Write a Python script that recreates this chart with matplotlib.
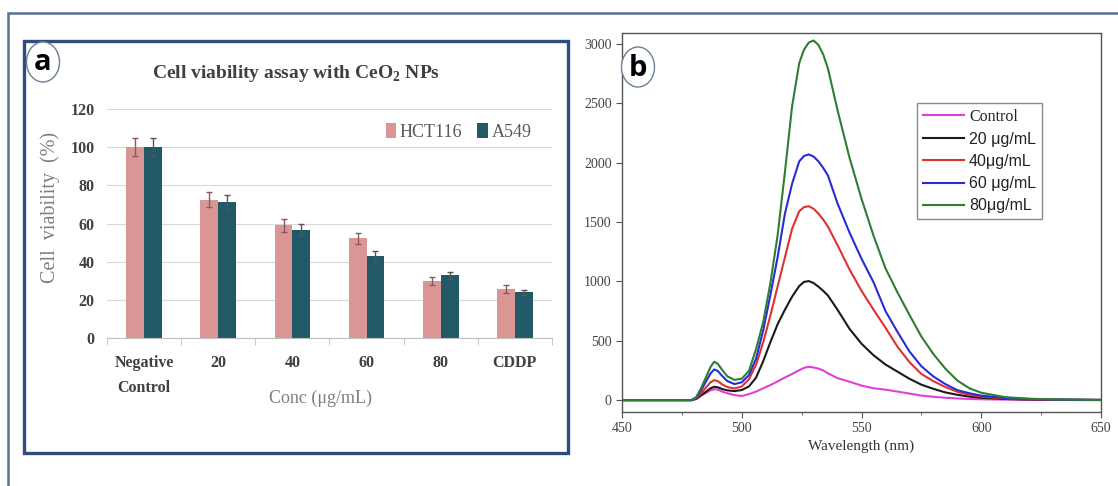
import matplotlib
matplotlib.use('Agg')
import matplotlib.pyplot as plt
import numpy as np
from matplotlib.patches import Rectangle, Ellipse

plt.rcParams['mathtext.fontset'] = 'custom'
plt.rcParams['mathtext.rm'] = 'Liberation Serif:bold'
plt.rcParams['mathtext.bf'] = 'Liberation Serif:bold'

# panel a: cell viability
categories = ['Negative\nControl', '20', '40', '60', '80', 'CDDP']
hct116 = [100, 72.5, 59, 52.2, 29.8, 25.8]
hct116_err = [4.8, 3.8, 3.3, 3.0, 2.2, 2.0]
a549 = [100, 71.2, 56.8, 42.8, 32.8, 24.0]
a549_err = [4.6, 3.6, 2.8, 2.6, 1.8, 1.4]

# panel b: emission spectra
wavelength = [450, 479, 481, 483, 485, 487, 488.5, 490, 492, 494, 497, 500, 503, 506, 509, 512,
              515, 518, 521, 524, 526, 528, 530, 532, 534, 536, 540, 545, 550, 555, 560,
              565, 570, 575, 580, 585, 590, 595, 600, 610, 620, 630, 650]
control = [0, 0, 10, 38, 60, 82, 92, 88, 70, 58, 42, 35, 50, 72, 100, 127,
           158, 190, 220, 252, 272, 280, 275, 265, 250, 225, 185, 155, 122, 100, 88,
           72, 55, 38, 28, 20, 14, 10, 7, 4, 2, 1, 0]
conc20 = [0, 0, 10, 40, 70, 100, 112, 108, 92, 82, 76, 85, 115, 190, 330, 490,
          640, 760, 870, 960, 995, 1002, 985, 955, 920, 880, 760, 600, 475, 378, 300,
          240, 180, 130, 95, 65, 45, 30, 20, 10, 5, 3, 1]
conc40 = [0, 0, 15, 55, 105, 150, 168, 160, 130, 110, 98, 115, 175, 300, 490, 715,
          958, 1200, 1440, 1590, 1625, 1632, 1610, 1570, 1520, 1460, 1304, 1100, 920, 762, 610,
          450, 320, 220, 160, 110, 70, 45, 30, 14, 7, 4, 1]
conc60 = [0, 0, 20, 80, 155, 225, 258, 245, 200, 160, 135, 150, 210, 350, 590, 890,
          1205, 1567, 1820, 2010, 2055, 2068, 2050, 2010, 1955, 1890, 1655, 1410, 1190, 993, 750,
          575, 410, 285, 199, 135, 84, 58, 38, 18, 9, 5, 2]
conc80 = [0, 0, 25, 100, 190, 280, 323, 305, 250, 200, 170, 180, 245, 430, 660, 990,
          1390, 1915, 2470, 2837, 2950, 3010, 3027, 2990, 2910, 2790, 2440, 2040, 1695, 1385, 1110,
          907, 718, 535, 388, 265, 165, 100, 62, 25, 12, 6, 2]
series_labels = ['Control', '20 \u03bcg/mL', '40\u03bcg/mL', '60 \u03bcg/mL', '80\u03bcg/mL']
series_colors = ['#E040D8', '#1a1a1a', '#E0312F', '#2B2BD6', '#2E7D32']

W, H = 1118, 486
fig = plt.figure(figsize=(W / 100, H / 100), dpi=100)


def fx(px):
    return px / W


def fy(py):
    return 1 - py / H


serif = 'Liberation Serif'

# outer frame and panel a frame
fig.add_artist(Rectangle((fx(8), fy(500)), fx(1130), fy(13) - fy(500), transform=fig.transFigure,
                         fill=False, edgecolor='#5B7393', lw=1.8))
fig.add_artist(Rectangle((fx(24), fy(453)), fx(568) - fx(24), fy(41) - fy(453), transform=fig.transFigure,
                         fill=False, edgecolor='#2F4D7A', lw=2.4))

# ---- panel a ----
ax1 = fig.add_axes([fx(107), fy(338), fx(552) - fx(107), fy(109) - fy(338)])
x = np.arange(len(categories))
w = 0.24
ax1.bar(x - w / 2, hct116, w, color='#D99694', label='HCT116', zorder=2)
ax1.bar(x + w / 2, a549, w, color='#215967', label='A549', zorder=2)
ax1.errorbar(x - w / 2, hct116, yerr=hct116_err, fmt='none', ecolor='#8a5a58', elinewidth=1,
             capsize=2.5, zorder=3)
ax1.errorbar(x + w / 2, a549, yerr=a549_err, fmt='none', ecolor='#555555', elinewidth=1,
             capsize=2.5, zorder=3)
ax1.set_ylim(0, 120)
ax1.set_xlim(-0.5, 5.5)
ax1.set_yticks(range(0, 121, 20))
ax1.yaxis.grid(True, color='#D9D9D9', lw=0.8, zorder=0)
ax1.set_axisbelow(True)
for s in ['top', 'right', 'left']:
    ax1.spines[s].set_visible(False)
ax1.spines['bottom'].set_color('#BFBFBF')
ax1.set_xticks(x)
ax1.set_xticklabels(categories, fontfamily=serif, fontweight='bold', fontsize=11.5, color='#404040',
                    linespacing=1.75)
ax1.set_xticks(np.arange(-0.5, 6, 1), minor=True)
ax1.tick_params(axis='x', which='major', length=0, pad=12)
ax1.tick_params(axis='x', which='minor', length=5, color='#BFBFBF')
ax1.tick_params(axis='y', length=0, pad=9)
for t in ax1.get_yticklabels():
    t.set_fontfamily(serif)
    t.set_fontweight('bold')
    t.set_fontsize(11.5)
    t.set_color('#404040')
ax1.text(-0.128, 0.57, 'Cell  viability  (%)', transform=ax1.transAxes, rotation=90,
         ha='center', va='center', fontfamily=serif, fontsize=14.5, color='#7F7F7F')
ax1.text(0.479, -0.262, 'Conc (\u03bcg/mL)', transform=ax1.transAxes, ha='center', va='center',
         fontfamily=serif, fontsize=13, color='#7F7F7F')
leg1 = ax1.legend(loc='center', bbox_to_anchor=(0.79, 0.9), ncol=2, frameon=False,
                  handlelength=0.6, handleheight=0.9, handletextpad=0.2, columnspacing=0.8,
                  prop={'family': serif, 'size': 13})
for t in leg1.get_texts():
    t.set_color('#595959')
fig.text(fx(296), fy(73), r'Cell viability assay with CeO$_\mathbf{2}$ NPs', ha='center', va='center',
         fontfamily=serif, fontweight='bold', fontsize=14, color='#404040')

# ---- panel b ----
ax2 = fig.add_axes([fx(622), fy(412), fx(1101) - fx(622), fy(33) - fy(412)])
for vals, lab, col in zip([control, conc20, conc40, conc60, conc80], series_labels, series_colors):
    ax2.plot(wavelength, vals, color=col, lw=1.5, label=lab)
ax2.set_xlim(450, 650)
ax2.set_ylim(-100, 3090)
ax2.set_xticks(range(450, 651, 50))
ax2.set_xticks(range(475, 650, 50), minor=True)
ax2.set_yticks(range(0, 3001, 500))
for s in ax2.spines.values():
    s.set_color('#555555')
    s.set_linewidth(1.0)
ax2.tick_params(axis='both', which='major', length=4, color='#555555', labelsize=10,
                labelcolor='#444444')
ax2.tick_params(axis='x', which='minor', length=2.5, color='#555555')
for t in ax2.get_xticklabels() + ax2.get_yticklabels():
    t.set_fontfamily(serif)
ax2.set_xlabel('Wavelength (nm)', fontfamily=serif, fontsize=11, color='#333333', labelpad=3)
leg2 = ax2.legend(loc='upper left', bbox_to_anchor=(0.616, 0.815), borderaxespad=0,
                  fancybox=False, edgecolor='#8c8c8c', framealpha=1, fontsize=11.5,
                  handlelength=2.6, handletextpad=0.3, labelspacing=0.45, borderpad=0.35)
leg2.get_frame().set_linewidth(1.0)
for i, t in enumerate(leg2.get_texts()):
    t.set_fontfamily(serif if i == 0 else 'Liberation Sans')
    t.set_color('#222222')

# panel letters
for cx, cy, letter in [(43, 62, 'a'), (638, 67, 'b')]:
    fig.add_artist(Ellipse((fx(cx), fy(cy)), fx(33), 40 / H, transform=fig.transFigure,
                           facecolor='white', edgecolor='#6B7F99', lw=1.0, zorder=5))
    fig.text(fx(cx), fy(cy + 1), letter, ha='center', va='center', fontfamily='Open Sans',
             fontweight='bold', fontsize=21, color='black', zorder=6)

fig.savefig('out.png', dpi=100)
